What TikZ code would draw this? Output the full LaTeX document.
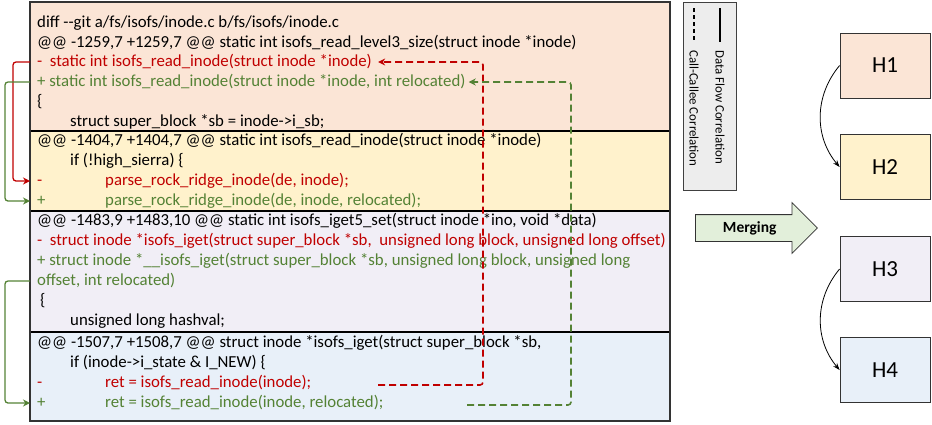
\documentclass[tikz,border=0pt]{standalone}
\usepackage{fontspec}
\setmainfont{Carlito}
\usepackage{tikz}
\usetikzlibrary{arrows.meta, shapes.arrows}
\definecolor{hunkA}{HTML}{FBE5D6}
\definecolor{hunkB}{HTML}{FFF2CC}
\definecolor{hunkC}{HTML}{F1EEF6}
\definecolor{hunkD}{HTML}{E8F0F9}
\definecolor{delred}{HTML}{C00000}
\definecolor{addgreen}{HTML}{548235}
\definecolor{legendgray}{HTML}{EDEDED}
\definecolor{mergegreen}{HTML}{E2EFDA}
\tikzset{code/.style = {anchor = base west, inner sep = 0pt, text height = 12pt, text depth = 4pt, font = \fontsize{16.8}{20}\selectfont}}
\tikzset{del/.style = {code, text = delred}}
\tikzset{add/.style = {code, text = addgreen}}
\tikzset{flow/.style = {rounded corners = 3pt, line width = 1.3pt, -{Stealth[length = 7pt, width = 7pt]}}}
\tikzset{call/.style = {rounded corners = 3pt, line width = 1.6pt, dash pattern = on 7pt off 4pt, -{Stealth[length = 7pt, width = 7pt]}}}
\tikzset{legendtext/.style = {rotate = -90, anchor = west, inner sep = 0pt, font = \fontsize{12.9}{15}\selectfont}}
\tikzset{merge/.style = {shape = single arrow, draw = black!80, fill = mergegreen, line width = 0.8pt, minimum height = 122pt, single arrow head extend = 12pt, inner xsep = 4pt, inner ysep = 7pt, text height = 10pt, text depth = 2pt, font = \bfseries\fontsize{15.5}{18}\selectfont}}
\tikzset{hblock/.style = {shape = rectangle, draw = black!80, line width = 0.8pt, minimum width = 90pt, minimum height = 65pt, font = \fontsize{23}{26}\selectfont}}
\tikzset{corr/.style = {line width = 0.8pt, -{Stealth[length = 7pt, width = 5pt]}}}

\begin{document}
\begin{tikzpicture}[x = 1pt, y = -1pt]
\useasboundingbox (0, 0) rectangle (932, 424);

% hunks of the patch
\fill[hunkA] (30, 2) rectangle (670, 131);
\fill[hunkB] (30, 131) rectangle (670, 211);
\fill[hunkC] (30, 211) rectangle (670, 332);
\fill[hunkD] (30, 332) rectangle (670, 421);
\draw[line width = 1.6pt] (30, 131) -- (670, 131);
\draw[line width = 1.6pt] (30, 211) -- (670, 211);
\draw[line width = 1.6pt] (30, 332) -- (670, 332);
\draw[black!80, line width = 1.4pt] (30, 2) rectangle (670, 421);

\node[code] (a1) at (37, 27) {diff -{}-git a/fs/isofs/inode.c b/fs/isofs/inode.c};
\node[code] (a2) at (37, 47) {@@ -1259,7 +1259,7 @@ static int isofs\_read\_level3\_size(struct inode *inode)};
\node[del] (a3) at (37, 66) {-\hspace{0.45em}static int isofs\_read\_inode(struct inode *inode)};
\node[add] (a4) at (37, 86) {+ static int isofs\_read\_inode(struct inode *inode, int relocated)};
\node[code] (a5) at (37, 106) {\{};
\node[code] (a6) at (70, 126) {struct super\_block *sb = inode->i\_sb;};

\node[code] (b1) at (37, 145) {@@ -1404,7 +1404,7 @@ static int isofs\_read\_inode(struct inode *inode)};
\node[code] (b2) at (70, 165) {if (!high\_sierra) \{};
\node[del] (b3) at (37, 185) {-};
\node[del] (b3c) at (105, 185) {parse\_rock\_ridge\_inode(de, inode);};
\node[add] (b4) at (37, 205) {+};
\node[add] (b4c) at (105, 205) {parse\_rock\_ridge\_inode(de, inode, relocated);};

\node[code] (c1) at (37, 225) {@@ -1483,9 +1483,10 @@ static int isofs\_iget5\_set(struct inode *ino, void *data)};
\node[del] (c2) at (37, 245) {-\hspace{0.45em}struct inode *isofs\_iget(struct super\_block *sb,\ \ unsigned long block, unsigned long offset)};
\node[add] (c3) at (37, 265) {+ struct inode *\_\_isofs\_iget(struct super\_block *sb, unsigned long block, unsigned long};
\node[add] (c4) at (37, 285) {offset, int relocated)};
\node[code] (c5) at (40, 305) {\{};
\node[code] (c6) at (70, 325) {unsigned long hashval;};

\node[code] (d1) at (37, 347) {@@ -1507,7 +1508,7 @@ struct inode *isofs\_iget(struct super\_block *sb,};
\node[code] (d2) at (70, 367) {if (inode->i\_state \& I\_NEW) \{};
\node[del] (d3) at (37, 387) {-};
\node[del] (d3c) at (105, 387) {ret = isofs\_read\_inode(inode);};
\node[add] (d4) at (37, 407) {+};
\node[add] (d4c) at (105, 407) {ret = isofs\_read\_inode(inode, relocated);};

% data flow
\draw[flow, delred] ([xshift = -7pt]a3.west) -- ++(-17, 0) |- ([xshift = -7pt]b3.west);
\draw[flow, addgreen] ([xshift = -7pt]a4.west) -- ++(-25, 0) |- ([xshift = -7pt]b4.west);
\draw[flow, addgreen] ([xshift = -7pt]c4.west) -- ++(-25, 0) |- ([xshift = -7pt]d4.west);

% call-callee
\coordinate (redcall) at (378, 385);
\coordinate (greencall) at (467, 405);
\draw[call, delred] (redcall) -- ++(105, 0) |- ([xshift = 6pt]a3.east);
\draw[call, addgreen] (greencall) -- ++(104, 0) |- ([xshift = 3pt]a4.east);

% legend
\draw[fill = legendgray, draw = black!75, line width = 1pt] (683, 2) rectangle (736, 190);
\coordinate (dfa) at (720, 8);
\coordinate (dfb) at (720, 42);
\coordinate (cca) at (694, 8);
\coordinate (ccb) at (694, 42);
\draw[line width = 1.2pt] (dfa) -- (dfb);
\draw[line width = 1.2pt, dash pattern = on 4pt off 3pt] (cca) -- (ccb);
\node[legendtext] (dft) at (720, 50) {Data Flow Correlation};
\node[legendtext] (cct) at (694, 50) {Call-Callee Correlation};

\node[merge, anchor = tail] (mrg) at (695, 228) {Merging};

\node[hblock, fill = hunkA] (h1) at (885, 65.5) {H1};
\node[hblock, fill = hunkB] (h2) at (885, 167) {H2};
\node[hblock, fill = hunkC] (h3) at (885, 269) {H3};
\node[hblock, fill = hunkD] (h4) at (885, 370) {H4};

\draw[corr] (h1.west) to[bend right = 40] (h2.west);
\draw[corr] (h3.west) to[bend right = 40] (h4.west);
\end{tikzpicture}
\end{document}
